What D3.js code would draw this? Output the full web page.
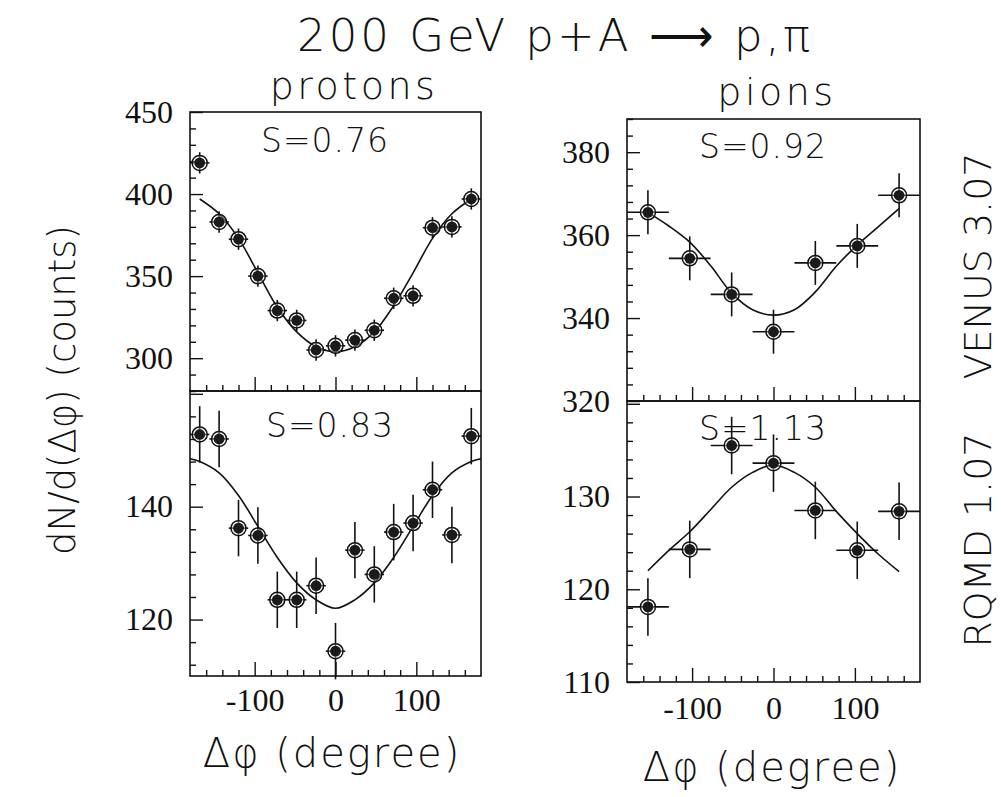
<!DOCTYPE html>
<html>
<head>
<meta charset="utf-8">
<script src="https://cdn.jsdelivr.net/npm/d3@7"></script>
<style>
  html, body { margin: 0; padding: 0; background: #fff; }
  svg { display: block; }
  .hershey { font-family: "DejaVu Sans", sans-serif; font-weight: 200; fill: #111; }
  .tick text { font-family: "Liberation Serif", "Times New Roman", serif; font-size: 32px; fill: #111; }
</style>
</head>
<body>
<svg id="chart" width="1001" height="797"></svg>
<script>
// ---------------- data ----------------
const protonBins = [-168, -144, -120, -96, -72, -48, -24, 0, 24, 48, 72, 96, 120, 144, 168];
const protonVenus = [419, 383, 372.5, 350, 329, 323, 305, 307.5, 311, 317, 336.5, 338, 379.5, 380, 397];
const protonVenusErr = [6.5, 6.5, 6.5, 6.5, 6.5, 6.5, 6.5, 6.5, 6.5, 6.5, 6.5, 6.5, 6.5, 6.5, 6.5];
const protonRqmd = [152.8, 152, 136.2, 134.9, 123.5, 123.5, 126, 114.4, 132.3, 128, 135.5, 137.1, 143, 135, 152.5];
const protonRqmdErr = [5, 5, 5, 5, 5, 5, 5, 5, 5, 5, 5, 5, 5, 5, 5];
const protonHalfBin = 12;

const protonVenusFitX = [-168, -144, -120, -96, -72, -48, -24, 0, 24, 48, 72, 96, 120, 144, 168];
const protonVenusFit = [397, 388, 373, 352, 331, 316, 307, 304, 307, 316, 332, 352, 373, 388, 397];
const protonRqmdFitX = [-180, -168, -144, -120, -96, -72, -48, -24, 0, 24, 48, 72, 96, 120, 144, 168, 180];
const protonRqmdFit = [148.5, 148, 146, 142, 136.5, 131, 126.5, 123.5, 122, 123.5, 126.5, 131, 136.5, 142, 146, 148, 148.5];

const pionBins = [-154.3, -102.9, -51.4, 0, 51.4, 102.9, 154.3];
const pionVenus = [365.5, 354.4, 345.7, 336.7, 353.3, 357.4, 369.6];
const pionVenusErr = [5.3, 5.3, 5.3, 5.3, 5.3, 5.3, 5.3];
const pionRqmd = [118.1, 124.3, 135.5, 133.6, 128.5, 124.2, 128.4];
const pionRqmdErr = [3.1, 3.1, 3.1, 3.1, 3.1, 3.1, 3.1];
const pionHalfBin = 25.7;

const pionFitX = [-154.3, -128.6, -102.9, -77.1, -51.4, -25.7, 0, 25.7, 51.4, 77.1, 102.9, 128.6, 154.3];
const pionVenusFit = [365.5, 362.2, 358.3, 352.6, 346, 342, 340.7, 342, 346.3, 352.5, 357.6, 362, 366.4];
const pionRqmdFit = [122, 124.2, 126.2, 128.6, 131, 132.6, 133.4, 132.6, 131, 128.4, 126, 123.8, 121.9];

const xMajorTicks = [-100, 0, 100];
const xMinorTicks = [-160, -140, -120, -80, -60, -40, -20, 20, 40, 60, 80, 120, 140, 160];
const xTickLabels = ["-100", "0", "100"];

const labels = {
  title: "200 GeV p+A \u27F6 p,\u03C0",
  protons: "protons",
  pions: "pions",
  yTitle: "dN/d(\u0394\u03C6) (counts)",
  xTitle: "\u0394\u03C6 (degree)",
  venus: "VENUS 3.07",
  rqmd: "RQMD 1.07",
  sValues: ["S=0.76", "S=0.83", "S=0.92", "S=1.13"]
};

// ---------------- layout ----------------
const svg = d3.select("#chart");

const panels = [
  { x: [190, 481], y: [391, 112], dom: [280, 450], major: [300, 350, 400, 450], minorStep: 10,
    labelTicks: [300, 350, 400, 450], xs: protonBins, ys: protonVenus, err: protonVenusErr, hb: protonHalfBin,
    fx: protonVenusFitX, fy: protonVenusFit, s: labels.sValues[0], sPos: [325, 152], xLabels: false, xPad: 16 },
  { x: [190, 481], y: [676, 391], dom: [110, 160.5], major: [120, 140, 160], minorStep: 4,
    labelTicks: [120, 140], xs: protonBins, ys: protonRqmd, err: protonRqmdErr, hb: protonHalfBin,
    fx: protonRqmdFitX, fy: protonRqmdFit, s: labels.sValues[1], sPos: [330, 437], xLabels: true, xPad: 12 },
  { x: [627, 920], y: [401, 119], dom: [320, 388], major: [320, 340, 360, 380], minorStep: 4,
    labelTicks: [320, 340, 360, 380], xs: pionBins, ys: pionVenus, err: pionVenusErr, hb: pionHalfBin,
    fx: pionFitX, fy: pionVenusFit, s: labels.sValues[2], sPos: [763, 158], xLabels: false, xPad: 16 },
  { x: [627, 920], y: [682, 401], dom: [110, 140.3], major: [110, 120, 130, 140], minorStep: 2,
    labelTicks: [110, 120, 130], xs: pionBins, ys: pionRqmd, err: pionRqmdErr, hb: pionHalfBin,
    fx: pionFitX, fy: pionRqmdFit, s: labels.sValues[3], sPos: [763, 440], xLabels: true, xPad: 14 }
];

panels.forEach(p => {
  const x = d3.scaleLinear().domain([-180, 180]).range(p.x);
  const y = d3.scaleLinear().domain(p.dom).range(p.y);
  const g = svg.append("g");

  // frame
  g.append("rect")
    .attr("x", p.x[0]).attr("y", p.y[1])
    .attr("width", p.x[1] - p.x[0]).attr("height", p.y[0] - p.y[1])
    .attr("fill", "none").attr("stroke", "#111").attr("stroke-width", 1.6);

  // y ticks
  const minors = d3.range(Math.ceil(p.dom[0] / p.minorStep) * p.minorStep, p.dom[1] + 0.001, p.minorStep)
    .filter(v => !p.major.includes(v));
  const yMinorAxis = d3.axisLeft(y).tickValues(minors).tickSize(-6).tickFormat("");
  const yMajorAxis = d3.axisLeft(y).tickValues(p.major).tickSize(-13).tickPadding(17)
    .tickFormat(d => p.labelTicks.includes(d) ? d : "");
  [yMinorAxis, yMajorAxis].forEach(ax => {
    const a = g.append("g").attr("transform", `translate(${p.x[0]},0)`).call(ax);
    a.select(".domain").remove();
    a.selectAll(".tick line").attr("stroke", "#111").attr("stroke-width", 1.4);
  });

  // x ticks (bottom, inward)
  const xMinorAxis = d3.axisBottom(x).tickValues(xMinorTicks).tickSize(-6).tickFormat("");
  const xMajorAxis = d3.axisBottom(x).tickValues(xMajorTicks).tickSize(-14).tickPadding(p.xPad)
    .tickFormat((d, i) => p.xLabels ? xTickLabels[i] : "");
  [xMinorAxis, xMajorAxis].forEach(ax => {
    const a = g.append("g").attr("transform", `translate(0,${p.y[0]})`).call(ax);
    a.select(".domain").remove();
    a.selectAll(".tick line").attr("stroke", "#111").attr("stroke-width", 1.4);
  });

  // fit curve
  const line = d3.line().x(d => x(d[0])).y(d => y(d[1])).curve(d3.curveCatmullRom);
  g.append("path")
    .datum(p.fx.map((v, i) => [v, p.fy[i]]))
    .attr("d", line).attr("fill", "none").attr("stroke", "#111").attr("stroke-width", 1.6);

  // points with error bars
  const pts = p.xs.map((v, i) => ({ x: v, y: p.ys[i], e: p.err[i] }));
  const pg = g.selectAll(".pt").data(pts).enter().append("g");
  pg.append("line")
    .attr("x1", d => x(d.x)).attr("x2", d => x(d.x))
    .attr("y1", d => y(d.y - d.e)).attr("y2", d => y(d.y + d.e))
    .attr("stroke", "#111").attr("stroke-width", 1.6);
  pg.append("line")
    .attr("x1", d => x(d.x - p.hb)).attr("x2", d => x(d.x + p.hb))
    .attr("y1", d => y(d.y)).attr("y2", d => y(d.y))
    .attr("stroke", "#111").attr("stroke-width", 1.6);
  pg.append("circle")
    .attr("cx", d => x(d.x)).attr("cy", d => y(d.y)).attr("r", 7.5)
    .attr("fill", "#fff").attr("fill-opacity", 0.35).attr("stroke", "#111").attr("stroke-width", 1.5);
  pg.append("circle")
    .attr("cx", d => x(d.x)).attr("cy", d => y(d.y)).attr("r", 5.4)
    .attr("fill", "#1a1a1a");

  // S label
  g.append("text").attr("class", "hershey")
    .attr("x", p.sPos[0]).attr("y", p.sPos[1]).attr("text-anchor", "middle")
    .attr("font-size", 33).attr("letter-spacing", 1).text(p.s);
});

// ---------------- texts ----------------
svg.append("text").attr("class", "hershey").attr("x", 555).attr("y", 51)
  .attr("text-anchor", "middle").attr("font-size", 45).attr("letter-spacing", 3).text(labels.title);
svg.append("text").attr("class", "hershey").attr("x", 354).attr("y", 99)
  .attr("text-anchor", "middle").attr("font-size", 38).attr("letter-spacing", 3.5).text(labels.protons);
svg.append("text").attr("class", "hershey").attr("x", 777).attr("y", 105)
  .attr("text-anchor", "middle").attr("font-size", 38).attr("letter-spacing", 3.5).text(labels.pions);
svg.append("text").attr("class", "hershey")
  .attr("transform", "translate(75,390) rotate(-90)")
  .attr("text-anchor", "middle").attr("font-size", 37).text(labels.yTitle);
svg.append("text").attr("class", "hershey").attr("x", 332).attr("y", 767)
  .attr("text-anchor", "middle").attr("font-size", 40).attr("letter-spacing", 2).text(labels.xTitle);
svg.append("text").attr("class", "hershey").attr("x", 772).attr("y", 781)
  .attr("text-anchor", "middle").attr("font-size", 40).attr("letter-spacing", 2).text(labels.xTitle);
svg.append("text").attr("class", "hershey")
  .attr("transform", "translate(991,266) rotate(-90)")
  .attr("text-anchor", "middle").attr("font-size", 38).text(labels.venus);
svg.append("text").attr("class", "hershey")
  .attr("transform", "translate(991,540) rotate(-90)")
  .attr("text-anchor", "middle").attr("font-size", 38).text(labels.rqmd);
</script>
</body>
</html>
